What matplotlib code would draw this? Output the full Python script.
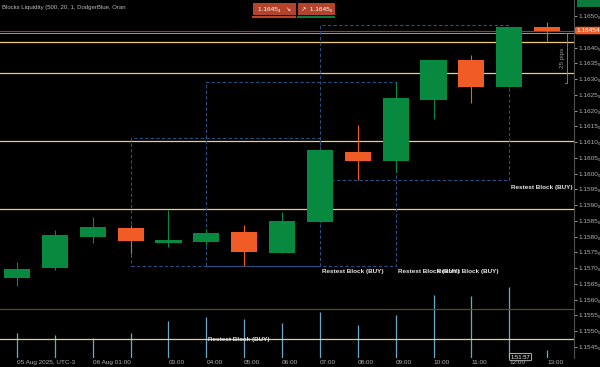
import numpy as np
import matplotlib.pyplot as plt
from matplotlib.patches import Rectangle

plt.rcParams['font.family'] = ['Liberation Sans', 'DejaVu Sans']

# hourly candles, 05 Aug 23:00 .. 06 Aug 13:00 (UTC-3)
opens = [1.15669, 1.15700, 1.15799, 1.15827, 1.15780, 1.15783, 1.15815, 1.15748,
         1.15846, 1.16069, 1.16040, 1.16234, 1.16360, 1.16275, 1.16465]
highs = [1.15720, 1.15821, 1.15862, 1.15837, 1.15885, 1.15824, 1.15837, 1.15878,
         1.16075, 1.16154, 1.16291, 1.16360, 1.16376, 1.16465, 1.16481]
lows = [1.15643, 1.15694, 1.15780, 1.15745, 1.15767, 1.15773, 1.15707, 1.15748,
        1.15846, 1.15980, 1.16005, 1.16173, 1.16224, 1.16275, 1.16421]
closes = [1.15697, 1.15805, 1.15831, 1.15786, 1.15789, 1.15812, 1.15751, 1.15850,
          1.16075, 1.16040, 1.16240, 1.16360, 1.16275, 1.16465, 1.16454]
volume = [1250, 1150, 1000, 1250, 1850, 2050, 1950, 1750, 2300, 1650, 2150, 3150,
          3100, 3550, 400]

time_labels = {0: '05 Aug 2025, UTC-3', 2: '06 Aug 01:00', 4: '03:00', 5: '04:00',
               6: '05:00', 7: '06:00', 8: '07:00', 9: '08:00', 10: '09:00',
               11: '10:00', 12: '11:00', 13: '12:00', 14: '13:00'}

# liquidity levels
yellow_levels = [1.16417, 1.16318, 1.16104, 1.15887, 1.15474]
dark_level = 1.15571
last_price = 1.16454
prev_level = 1.16445

# retest boxes: (x0, x1, top, bottom)
boxes = [(3, 8, 1.16113, 1.15707),
         (5, 10, 1.16291, 1.15707),
         (8, 13, 1.16471, 1.15980)]
# retest labels: (x, price)
block_labels = [(8.06, 1.15688), (10.06, 1.15688), (11.09, 1.15688),
                (13.05, 1.15957), (5.04, 1.15475)]

green = '#07893f'
orange = '#f05b26'

fig = plt.figure(figsize=(6, 3.67), dpi=100, facecolor='black')
ax = fig.add_axes([0, 9 / 367, 574 / 600, 358 / 367])
ax2 = ax.twinx()
ax.set_zorder(2)
ax2.set_zorder(1)
ax.patch.set_visible(False)
ax2.set_facecolor('black')

x = np.arange(len(opens))

# volume
ax2.vlines(x, 0, volume, color='#6aa8c8', lw=0.9)
ax2.set_ylim(0, 17900)
ax2.set_yticks([])
for s in ax2.spines.values():
    s.set_visible(False)

# levels
for lv in yellow_levels:
    ax.axhline(lv, color='#f0cf78', lw=0.9, zorder=1)
ax.axhline(dark_level, color='#5c4b1e', lw=0.9, zorder=1)
ax.axhline(last_price, color='#9c3b2a', lw=0.8, zorder=1)
ax.axhline(prev_level, color='#d9a98a', lw=0.6, zorder=1)

# boxes
for x0, x1, top, bot in boxes:
    ax.add_patch(Rectangle((x0, bot), x1 - x0, top - bot, fill=False,
                           edgecolor='#2b4f80', lw=0.8, ls=(0, (3, 2)), zorder=2))

# candles
cols = [green if c >= o else orange for o, c in zip(opens, closes)]
ax.vlines(x, lows, highs, color=cols, lw=0.8, zorder=3)
body_lo = np.minimum(opens, closes)
body_h = np.maximum(np.abs(np.array(closes) - np.array(opens)), 0.00006)
ax.bar(x, body_h, bottom=body_lo, width=0.69, color=cols, zorder=4)

for bx, by in block_labels:
    ax.text(bx, by, 'Restest Block (BUY)', color='#e6e6e6', fontsize=4.6,
            fontweight='bold', ha='left', va='center', zorder=6)

# pips bracket
ax.plot([14.47, 14.53, 14.53, 14.47], [1.16445, 1.16445, 1.16287, 1.16287],
        color='#8a8a8a', lw=0.6, zorder=5)
ax.text(14.4, 1.16366, '25 pips', color='#9a9a9a', fontsize=4.5,
        rotation=90, ha='center', va='center', zorder=5)

ax.set_xlim(-0.449, 14.71)
ax.set_ylim(1.15415, 1.165508)

yt = np.arange(1.1545, 1.16501, 0.0005)
ax.yaxis.tick_right()
ax.set_yticks(yt)
# the 1.1645 label sits under the last-price tag
ax.set_yticklabels(['' if abs(v - 1.1645) < 1e-6 else f'{v:.4f}\u2080' for v in yt])
ax.tick_params(axis='y', colors='#b4b4b4', labelsize=4.6, length=2, pad=1,
               width=0.6)
ax.set_xticks(list(time_labels.keys()))
ax.set_xticklabels(list(time_labels.values()), ha='left')
ax.tick_params(axis='x', colors='#b4b4b4', labelsize=4.6, length=0, pad=1.5)
for s in ['top', 'left', 'bottom']:
    ax.spines[s].set_visible(False)
ax.spines['right'].set_color('#505050')
ax.spines['right'].set_linewidth(0.8)

# last price tag
ax.annotate('1.16454', xy=(1.004, last_price), xycoords=('axes fraction', 'data'),
            color='white', fontsize=4.6, ha='left', va='center', zorder=10,
            annotation_clip=False,
            bbox=dict(boxstyle='round,pad=0.2', fc=orange, ec='none'))

# countdown
ax.text(13.3, 1.15418, '1:51:57', color='white', fontsize=4.2, ha='center',
        va='center', zorder=10,
        bbox=dict(boxstyle='round,pad=0.2', fc='black', ec='#d0d0d0', lw=0.6))

# header
fig.text(2 / 600, 1 - 8 / 367, 'Blocks Liquidity (500, 20, 1, DodgerBlue, Oran',
         color='#bdbdbd', fontsize=4.3, ha='left', va='center')
fig.add_artist(Rectangle((253 / 600, 1 - 15 / 367), 43 / 600, 12 / 367,
                         transform=fig.transFigure, fc='#b3432b', ec='none'))
fig.add_artist(Rectangle((298 / 600, 1 - 15 / 367), 37 / 600, 12 / 367,
                         transform=fig.transFigure, fc='#b3432b', ec='none'))
fig.text(274.5 / 600, 1 - 9 / 367, '1.1645\u2084   \u2198', color='white',
         fontsize=4.6, ha='center', va='center')
fig.text(316.5 / 600, 1 - 9 / 367, '\u2197  1.1645\u2086', color='white',
         fontsize=4.6, ha='center', va='center')
fig.add_artist(plt.Line2D([253 / 600, 295 / 600], [1 - 17 / 367] * 2,
                          color='#b3432b', lw=1.5))
fig.add_artist(plt.Line2D([298 / 600, 334 / 600], [1 - 17 / 367] * 2,
                          color='#0c7a3c', lw=1.5))
fig.add_artist(Rectangle((577 / 600, 1 - 7 / 367), 23 / 600, 7 / 367,
                         transform=fig.transFigure, fc='#0c7a3c', ec='none'))

fig.savefig('out.png', dpi=100, facecolor='black')
